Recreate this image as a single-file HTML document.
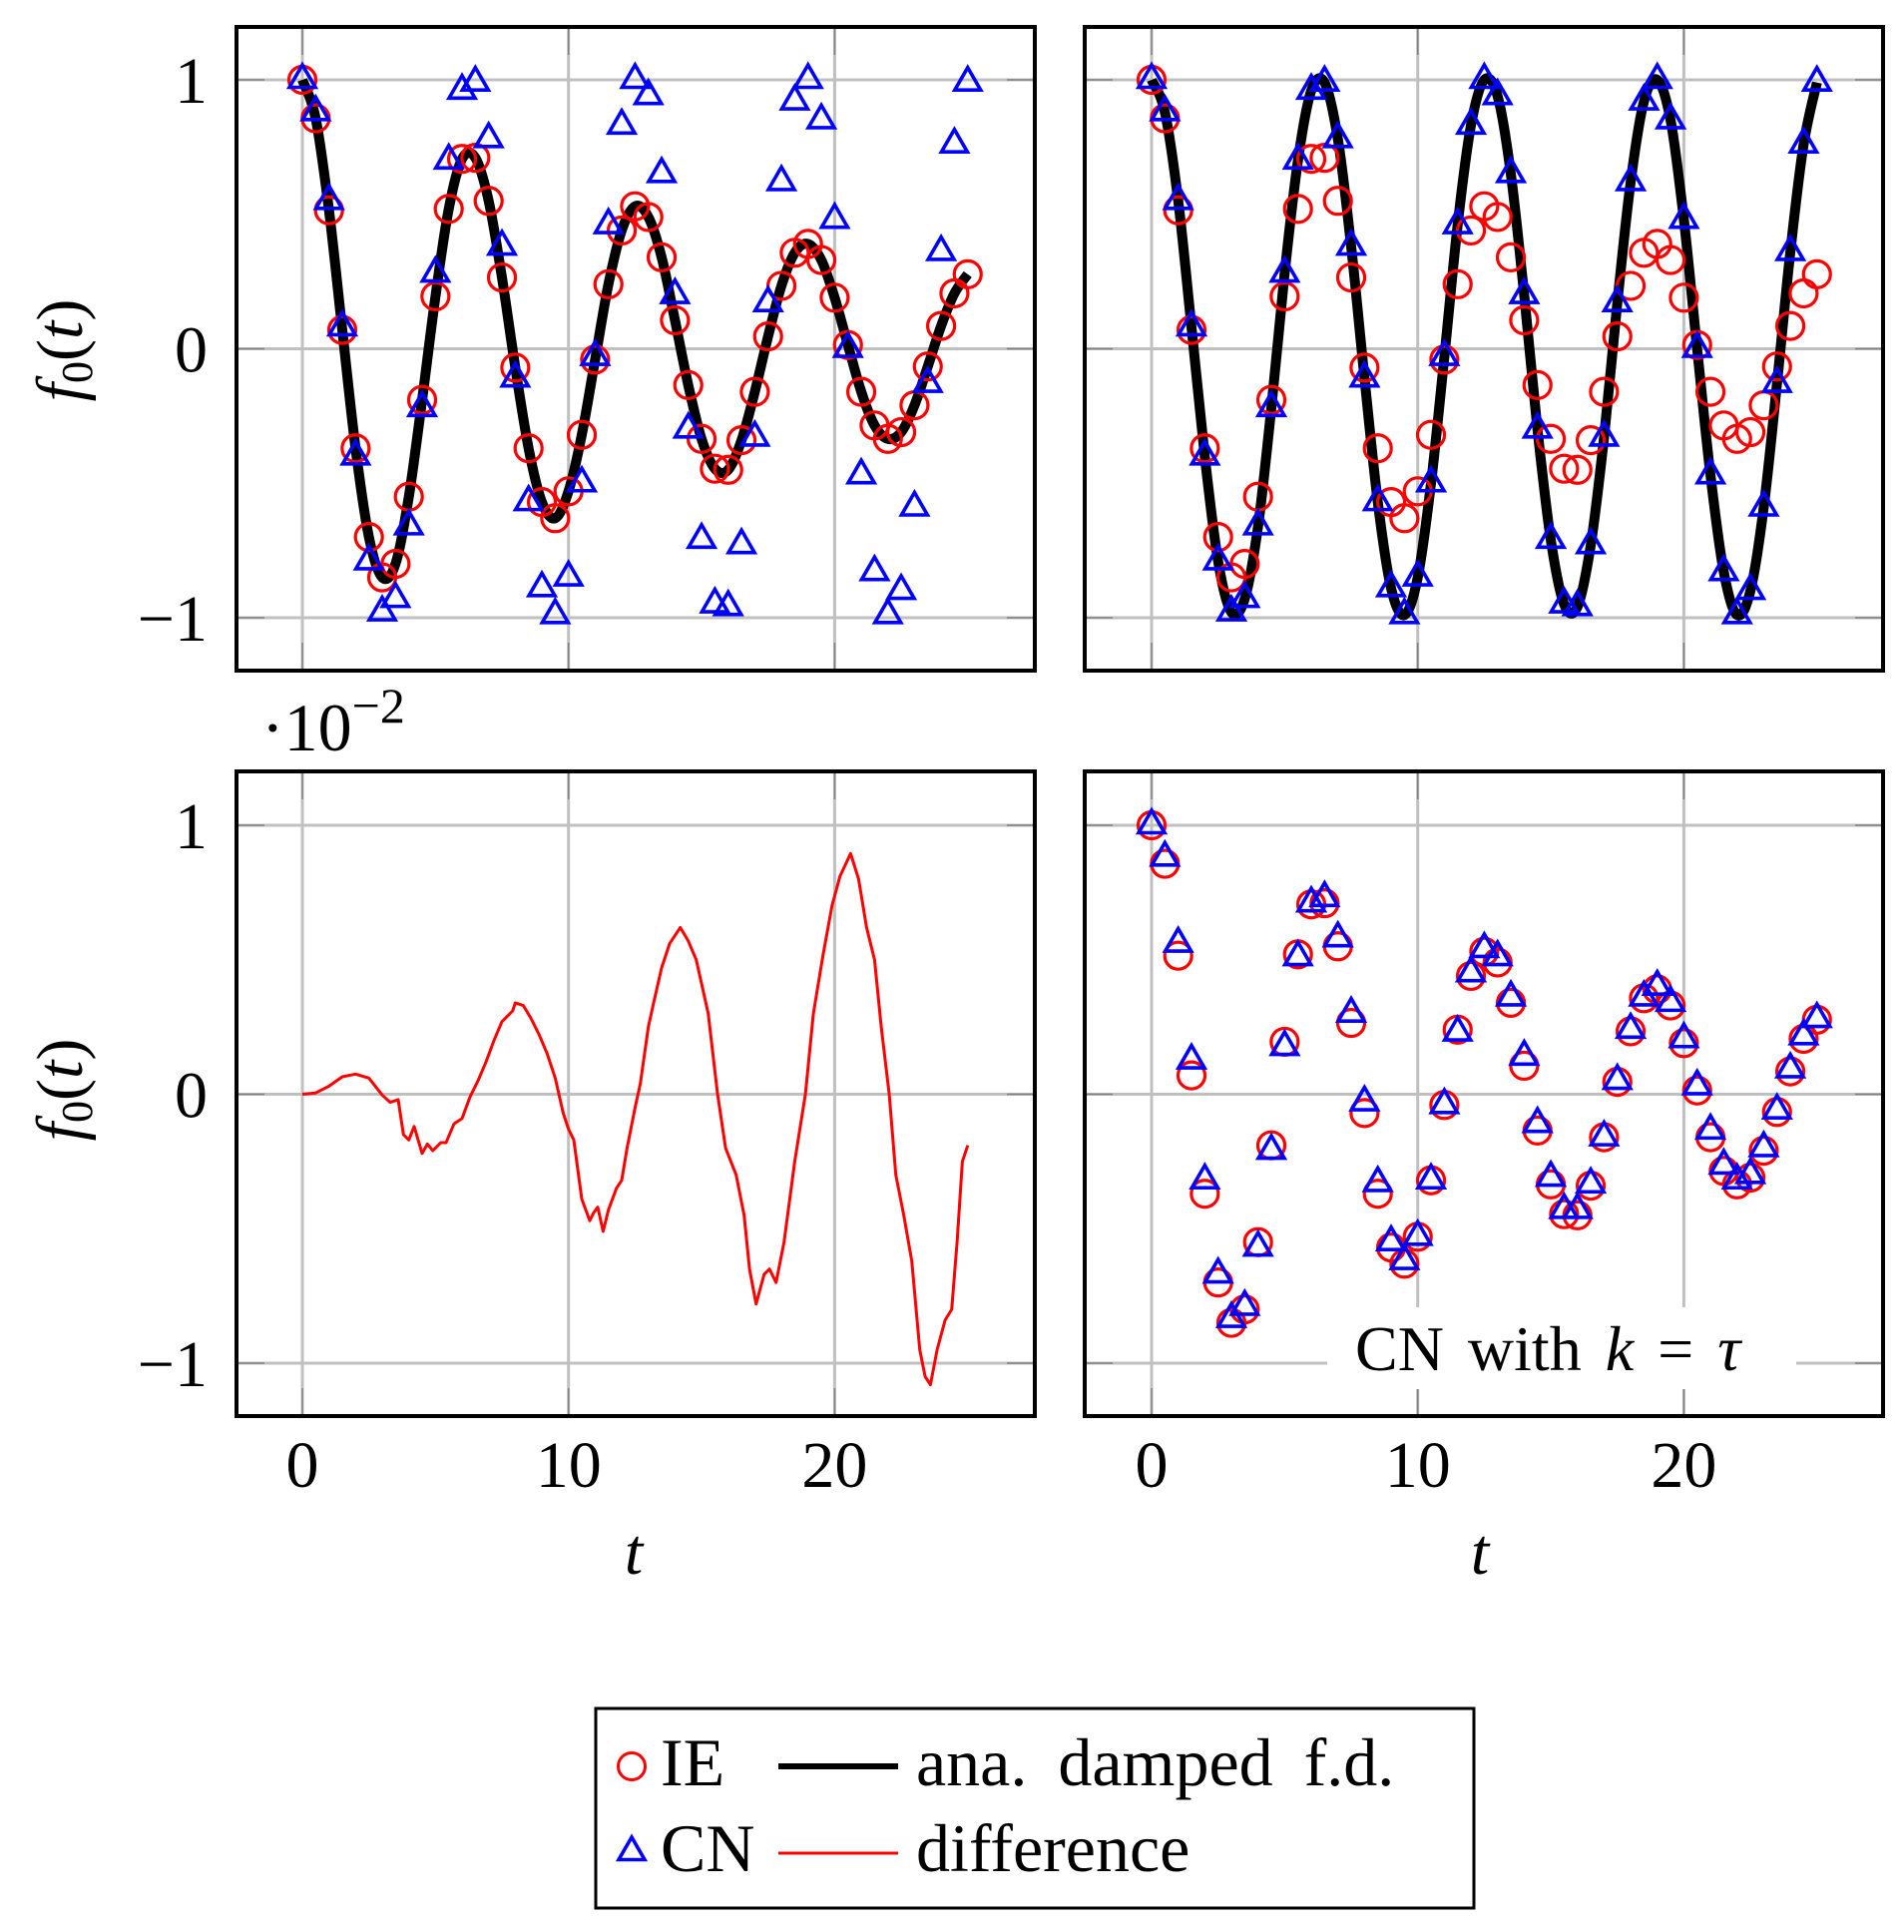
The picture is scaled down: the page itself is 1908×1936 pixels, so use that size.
<!DOCTYPE html>
<html><head><meta charset="utf-8">
<style>
html,body{margin:0;padding:0;background:#fff;}
svg{display:block;}
text{font-family:"Liberation Serif",serif;fill:#000;}
</style></head>
<body>
<svg id="fig" width="1908" height="1936" viewBox="0 0 1908 1936" xmlns="http://www.w3.org/2000/svg">
</svg>
<script>
const times=[0,0.5,1,1.5,2,2.5,3,3.5,4,4.5,5,5.5,6,6.5,7,7.5,8,8.5,9,9.5,10,10.5,11,11.5,12,12.5,13,13.5,14,14.5,15,15.5,16,16.5,17,17.5,18,18.5,19,19.5,20,20.5,21,21.5,22,22.5,23,23.5,24,24.5,25];
const ieValues=[1,0.857,0.515,0.07,-0.37,-0.70,-0.85,-0.80,-0.55,-0.19,0.195,0.52,0.706,0.71,0.55,0.265,-0.07,-0.37,-0.57,-0.63,-0.53,-0.32,-0.04,0.24,0.44,0.53,0.49,0.34,0.106,-0.135,-0.335,-0.446,-0.45,-0.34,-0.16,0.046,0.234,0.357,0.39,0.33,0.19,0.014,-0.16,-0.285,-0.335,-0.31,-0.21,-0.066,0.085,0.206,0.277];
const cnValues=[1,0.88,0.55,0.08,-0.40,-0.79,-0.98,-0.93,-0.66,-0.22,0.28,0.70,0.96,0.99,0.78,0.38,-0.11,-0.57,-0.89,-0.99,-0.85,-0.50,-0.03,0.46,0.83,1.0,0.94,0.65,0.20,-0.30,-0.71,-0.95,-0.96,-0.73,-0.33,0.17,0.62,0.92,1.0,0.85,0.48,0.0,-0.47,-0.83,-0.99,-0.90,-0.59,-0.13,0.36,0.76,0.99];
const cnTauValues=[1,0.88,0.56,0.126,-0.32,-0.67,-0.835,-0.79,-0.57,-0.21,0.176,0.51,0.71,0.73,0.58,0.30,-0.03,-0.33,-0.55,-0.62,-0.53,-0.32,-0.04,0.23,0.45,0.54,0.51,0.36,0.14,-0.11,-0.31,-0.43,-0.43,-0.335,-0.16,0.05,0.24,0.36,0.40,0.34,0.205,0.03,-0.135,-0.265,-0.32,-0.30,-0.20,-0.06,0.093,0.216,0.28];
const diffTimes=[0,0.5,1,1.5,2,2.5,3,3.3,3.6,3.8,4,4.2,4.5,4.7,4.9,5.2,5.4,5.7,6,6.3,6.6,6.9,7.2,7.5,7.9,8,8.3,8.6,8.9,9.2,9.5,9.8,10,10.2,10.5,10.8,10.95,11.1,11.3,11.5,11.8,12,12.2,12.5,12.7,13,13.2,13.5,13.8,14.2,14.5,14.8,15.25,15.6,15.9,16.3,16.6,16.8,17.05,17.35,17.55,17.8,18.1,18.5,18.9,19.2,19.55,19.9,20.2,20.6,20.9,21.2,21.5,21.75,22.05,22.3,22.6,22.9,23.2,23.4,23.6,23.85,24.15,24.4,24.6,24.8,25];
const diffValues=[0,0.005,0.03,0.065,0.075,0.06,-0.003,-0.03,-0.02,-0.15,-0.17,-0.12,-0.22,-0.185,-0.21,-0.18,-0.18,-0.11,-0.09,-0.01,0.05,0.12,0.2,0.27,0.31,0.34,0.33,0.28,0.22,0.15,0.06,-0.07,-0.13,-0.17,-0.39,-0.47,-0.44,-0.42,-0.51,-0.43,-0.35,-0.32,-0.2,-0.05,0.04,0.25,0.34,0.47,0.56,0.62,0.57,0.5,0.3,0.0,-0.2,-0.3,-0.45,-0.65,-0.78,-0.67,-0.65,-0.7,-0.55,-0.25,0.0,0.3,0.51,0.7,0.81,0.895,0.8,0.62,0.5,0.25,0.0,-0.3,-0.45,-0.62,-0.95,-1.05,-1.08,-0.95,-0.84,-0.8,-0.55,-0.25,-0.19];
const xTicks=[0,10,20];
const xTickLabels=["0","10","20"];
const yTicks=[-1,0,1];
const yTickLabels=["\u22121","0","1"];

const NS="http://www.w3.org/2000/svg";
const svg=document.getElementById('fig');
function mk(tag,attrs,parent){const e=document.createElementNS(NS,tag);for(const k in attrs)e.setAttribute(k,attrs[k]);(parent||svg).appendChild(e);return e;}

const panels={
 tl:{x0:237,x1:1037,y0:27,y1:672,ox:303,oy:349.5},
 tr:{x0:1087,x1:1887,y0:27,y1:672,ox:1154,oy:349.5},
 bl:{x0:237,x1:1037,y0:773,y1:1419,ox:303,oy:1096.5},
 br:{x0:1087,x1:1887,y0:773,y1:1419,ox:1154,oy:1096.5}
};
const XS=26.67, YS=269.5;
function sx(p,t){return p.ox+t*XS;}
function sy(p,v){return p.oy-v*YS;}

function smoothPath(p,ts,vs){
  const pts=ts.map((t,i)=>[sx(p,t),sy(p,vs[i])]);
  let d='M'+pts[0][0].toFixed(1)+' '+pts[0][1].toFixed(1);
  for(let i=0;i<pts.length-1;i++){
    const p0=pts[Math.max(0,i-1)],p1=pts[i],p2=pts[i+1],p3=pts[Math.min(pts.length-1,i+2)];
    const c1=[p1[0]+(p2[0]-p0[0])/6,p1[1]+(p2[1]-p0[1])/6];
    const c2=[p2[0]-(p3[0]-p1[0])/6,p2[1]-(p3[1]-p1[1])/6];
    d+=' C'+c1[0].toFixed(1)+' '+c1[1].toFixed(1)+' '+c2[0].toFixed(1)+' '+c2[1].toFixed(1)+' '+p2[0].toFixed(1)+' '+p2[1].toFixed(1);
  }
  return d;
}
function linePath(p,ts,vs){return ts.map((t,i)=>(i?'L':'M')+sx(p,t).toFixed(1)+' '+sy(p,vs[i]).toFixed(1)).join(' ');}

function drawGrid(name,p,showYLabels,showXLabels){
  const g=mk('g',{});
  
  
  xTicks.forEach((t,i)=>{
    const x=sx(p,t);
    const l=mk('line',{x1:x,x2:x,y1:p.y0,y2:p.y1,stroke:'#c0c0c0','stroke-width':3},g);
    
    
    mk('line',{x1:x,x2:x,y1:p.y0,y2:p.y0+28,stroke:'#808080','stroke-width':1.5},g);
    mk('line',{x1:x,x2:x,y1:p.y1,y2:p.y1-28,stroke:'#808080','stroke-width':1.5},g);
    if(showXLabels){
      const tx=mk('text',{x:x,y:1490,'font-size':66,'text-anchor':'middle'});
      tx.textContent=xTickLabels[i];
      
      
    }
  });
  yTicks.forEach((v,i)=>{
    const y=sy(p,v);
    const l=mk('line',{x1:p.x0,x2:p.x1,y1:y,y2:y,stroke:'#c0c0c0','stroke-width':3},g);
    
    
    mk('line',{x1:p.x0,x2:p.x0+28,y1:y,y2:y,stroke:'#808080','stroke-width':1.5},g);
    mk('line',{x1:p.x1,x2:p.x1-28,y1:y,y2:y,stroke:'#808080','stroke-width':1.5},g);
    if(showYLabels){
      const tx=mk('text',{x:208,y:y+23,'font-size':66,'text-anchor':'end'});
      tx.textContent=yTickLabels[i];
      
      
    }
  });
}
function drawFrame(name,p){
  const r=mk('rect',{x:p.x0,y:p.y0,width:p.x1-p.x0,height:p.y1-p.y0,fill:'none',stroke:'#000','stroke-width':4});
  
  
}
function drawCircles(name,p,ts,vs){
  const g=mk('g',{});
  
  
  ts.forEach((t,i)=>{
    const c=mk('circle',{cx:sx(p,t),cy:sy(p,vs[i]),r:13.5,fill:'none',stroke:'#ff0000','stroke-width':3.2},g);
    
    
  });
}
function triPts(x,y){const r=15;return (x)+','+(y-r)+' '+(x-r*0.866)+','+(y+r*0.5)+' '+(x+r*0.866)+','+(y+r*0.5);}
function drawTriangles(name,p,ts,vs){
  const g=mk('g',{});
  
  
  ts.forEach((t,i)=>{
    const c=mk('polygon',{points:triPts(sx(p,t),sy(p,vs[i])),fill:'none',stroke:'#0000ff','stroke-width':3.6},g);
    
    
  });
}

drawGrid('top-left',panels.tl,true,false);
let pth=mk('path',{d:smoothPath(panels.tl,times,ieValues),fill:'none',stroke:'#000','stroke-width':10,'stroke-linejoin':'round'});


drawCircles('ie-series-top-left',panels.tl,times,ieValues);
drawTriangles('cn-series-top-left',panels.tl,times,cnValues);
drawFrame('top-left',panels.tl);

drawGrid('top-right',panels.tr,false,false);
pth=mk('path',{d:smoothPath(panels.tr,times,cnValues),fill:'none',stroke:'#000','stroke-width':10,'stroke-linejoin':'round'});


drawCircles('ie-series-top-right',panels.tr,times,ieValues);
drawTriangles('cn-series-top-right',panels.tr,times,cnValues);
drawFrame('top-right',panels.tr);

drawGrid('bottom-left',panels.bl,true,true);
pth=mk('path',{d:linePath(panels.bl,diffTimes,diffValues),fill:'none',stroke:'#ff0000','stroke-width':3,'stroke-linejoin':'round'});


drawFrame('bottom-left',panels.bl);

drawGrid('bottom-right',panels.br,false,true);
drawCircles('ie-series-bottom-right',panels.br,times,ieValues);
drawTriangles('cn-tau-series-bottom-right',panels.br,times,cnTauValues);
let bg=mk('rect',{x:1330,y:1310,width:470,height:82,fill:'#fff'});


let an=mk('text',{x:1358,y:1373,'font-size':64,'word-spacing':8});


an.innerHTML='CN with <tspan font-style="italic">k</tspan> = <tspan font-style="italic">τ</tspan>';
drawFrame('bottom-right',panels.br);

[[351,'y-axis-title-top'],[1092,'y-axis-title-bottom']].forEach(([cy,nm])=>{
  const t=mk('text',{x:0,y:0,'font-size':66,'text-anchor':'middle',transform:'translate(82,'+cy+') rotate(-90)'});
  
  
  t.innerHTML='<tspan font-style="italic">f</tspan><tspan font-size="44" dy="10">0</tspan><tspan dy="-10">(</tspan><tspan font-style="italic">t</tspan>)';
});
[[635,'x-axis-title-left'],[1483,'x-axis-title-right']].forEach(([cx,nm])=>{
  const t=mk('text',{x:cx,y:1577,'font-size':66,'font-style':'italic','text-anchor':'middle'});
  t.textContent='t';
  
  
});
const sc=mk('text',{x:262,y:752,'font-size':68});


sc.innerHTML='·10<tspan font-size="50" dy="-28">−2</tspan>';

const lg=mk('g',{});


mk('rect',{x:597,y:1712,width:880,height:200,fill:'#fff',stroke:'#000','stroke-width':3},lg);
let e=mk('circle',{cx:633,cy:1770,r:13.5,fill:'none',stroke:'#ff0000','stroke-width':3},lg);


e=mk('text',{x:662,y:1789,'font-size':68},lg);e.textContent='IE';


e=mk('line',{x1:780,x2:900,y1:1770,y2:1770,stroke:'#000','stroke-width':6},lg);


e=mk('text',{x:918,y:1789,'font-size':68,'word-spacing':14},lg);e.textContent='ana. damped f.d.';


e=mk('polygon',{points:triPts(633,1856),fill:'none',stroke:'#0000ff','stroke-width':3.6},lg);


e=mk('text',{x:662,y:1875,'font-size':68},lg);e.textContent='CN';


e=mk('line',{x1:780,x2:900,y1:1857,y2:1857,stroke:'#ff0000','stroke-width':3},lg);


e=mk('text',{x:918,y:1875,'font-size':68},lg);e.textContent='difference';


</script>
</body></html>
